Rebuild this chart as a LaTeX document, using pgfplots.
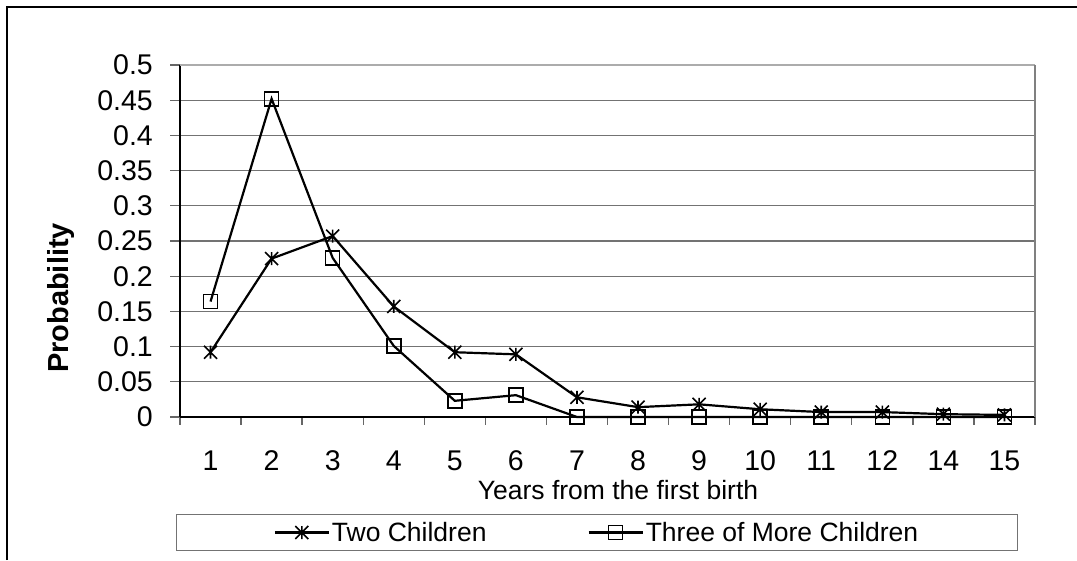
\documentclass[border=0pt]{standalone}
\usepackage{pgfplots}
\pgfplotsset{compat=1.18}
\usepackage{pgfplotstable}
\usepackage{fontspec}
\setmainfont{Liberation Sans}
\pgfdeclareplotmark{xstar}{%
  \pgfpathmoveto{\pgfqpoint{-\pgfplotmarksize}{-\pgfplotmarksize}}%
  \pgfpathlineto{\pgfqpoint{\pgfplotmarksize}{\pgfplotmarksize}}%
  \pgfpathmoveto{\pgfqpoint{-\pgfplotmarksize}{\pgfplotmarksize}}%
  \pgfpathlineto{\pgfqpoint{\pgfplotmarksize}{-\pgfplotmarksize}}%
  \pgfpathmoveto{\pgfqpoint{0pt}{-\pgfplotmarksize}}%
  \pgfpathlineto{\pgfqpoint{0pt}{\pgfplotmarksize}}%
  \pgfusepathqstroke}
\pgfplotstableread{
x two three
0 0.092 0.164
1 0.225 0.452
2 0.257 0.226
3 0.157 0.101
4 0.092 0.023
5 0.089 0.031
6 0.028 0
7 0.014 0
8 0.018 0
9 0.011 0
10 0.007 0
11 0.007 0
12 0.004 0
13 0.003 0
}\data
\newcommand{\bigfont}{\fontsize{26.5}{30}\selectfont}
\newcommand{\tickfont}{\fontsize{28.5}{32}\selectfont}
\begin{document}
\begin{tikzpicture}
\useasboundingbox (0pt,0pt) rectangle (1077pt,560pt);
\fill[white] (0pt,0pt) rectangle (1077pt,560pt);
\draw[line width=2.5pt] (7pt,0pt) -- (7pt,553pt) -- (1077pt,553pt);
\begin{axis}[
  width=855pt, height=352pt, scale only axis,
  at={(180pt,143pt)}, anchor=south west,
  xmin=-0.5, xmax=13.5, ymin=0, ymax=0.5,
  clip=false,
  axis x line*=bottom, axis y line*=left,
  axis line style={-, black, line width=2pt},
  xtick={0,1,2,3,4,5,6,7,8,9,10,11,12,13},
  xticklabels={1,2,3,4,5,6,7,8,9,10,11,12,14,15},
  major x tick style={draw=none},
  minor xtick={-0.5,0.5,1.5,2.5,3.5,4.5,5.5,6.5,7.5,8.5,9.5,10.5,11.5,12.5,13.5},
  ytick={0,0.05,0.1,0.15,0.2,0.25,0.3,0.35,0.4,0.45,0.5},
  yticklabels={0,0.05,0.1,0.15,0.2,0.25,0.3,0.35,0.4,0.45,0.5},
  ymajorgrids, grid style={gray!90!black, line width=1.2pt},
  tick align=outside, major tick length=10pt, minor tick length=8pt,
  tick style={gray!80!black, line width=1.3pt},
  ticklabel style={font=\tickfont},
  yticklabel style={anchor=east, inner sep=0pt, xshift=-17pt},
  xticklabel style={anchor=base, inner sep=0pt, yshift=-43pt},
  xlabel={Years from the first birth},
  ylabel={\textbf{Probability}},
  xlabel style={font=\bigfont, at={(rel axis cs:0.5123,0)}, anchor=base, inner sep=0pt, yshift=-82pt},
  ylabel style={font=\fontsize{29}{32}\selectfont, at={(rel axis cs:0,0.338)}, anchor=center, inner sep=0pt, yshift=119pt},
  legend columns=2,
  legend style={at={(rel axis cs:0.4877,-0.2756)}, anchor=north, draw=gray!90!black, line width=1.3pt,
    font=\bigfont, inner xsep=97pt, inner ysep=5.5pt,
    nodes={inner sep=2pt},
    /tikz/every even column/.append style={column sep=99pt}},
  legend cell align=left,
  legend image code/.code={\draw[mark repeat=2,mark phase=2,#1] plot coordinates {(0pt,0pt) (27pt,0pt) (54pt,0pt)};},
]
\draw[gray!65, line width=2pt] (rel axis cs:0,1) -- (rel axis cs:1,1);
\draw[gray, line width=2.5pt] (rel axis cs:1,1) -- (rel axis cs:1,0);
\addplot[black, line width=2.2pt, mark=xstar, mark size=6.5pt, mark options={line width=1.6pt}] table[x=x, y=two] {\data};
\addlegendentry{Two Children}
\addplot[black, line width=2.2pt, mark=square, mark size=7pt, mark options={line width=1.6pt}] table[x=x, y=three] {\data};
\addlegendentry{Three of More Children}
\end{axis}
\end{tikzpicture}
\end{document}
